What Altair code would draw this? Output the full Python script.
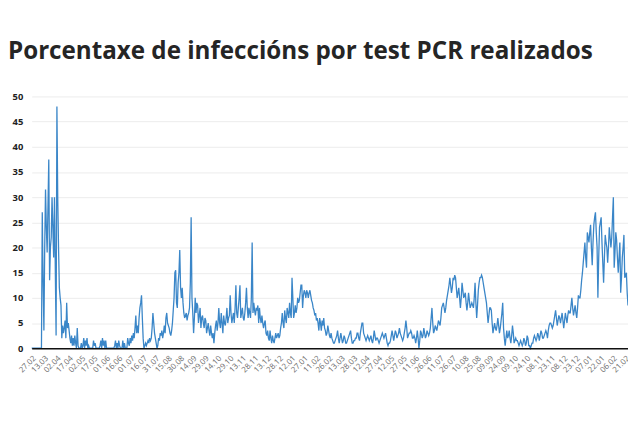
import json
import altair as alt
import pandas as pd

title_text = "Porcentaxe de infeccións por test PCR realizados"

tick_labels = ["27.02", "13.03", "02.04", "17.04", "02.05", "17.05", "01.06", "16.06",
               "01.07", "16.07", "31.07", "15.08", "30.08", "14.09", "29.09", "14.10",
               "29.10", "13.11", "28.11", "13.12", "28.12", "12.01", "27.01", "11.02",
               "26.02", "13.03", "28.03", "12.04", "27.04", "12.05", "27.05", "11.06",
               "26.06", "11.07", "26.07", "10.08", "25.08", "09.09", "24.09", "09.10",
               "24.10", "08.11", "23.11", "08.12", "23.12", "07.01", "22.01", "06.02", "21.02"]

# daily percentage values, grouped by label period
spring_2020 = [
    0, 0, 0, 0, 0, 0, 0, 0, 0, 0, 0, 0, 0, 27, 14,
    3.5, 20, 31.5, 24, 19, 28, 37.5, 13.5, 20, 22, 30, 24, 18, 30, 16,
    2.5, 48, 30, 20, 12, 10, 8.5, 2, 4.5, 3, 4, 5.5, 2, 9, 4,
    5, 3.5, 2, 1, 2.5, 0.5, 2, 0.5, 2.5, 1, 0, 4, 0.5, 0, 0,
]
summer_2020 = [
    0, 1, 0, 0.5, 2, 0, 1.5, 0.5, 2, 0, 0.5, 0, 0, 0, 0,
    0, 1.5, 0.5, 1, 0, 0, 0, 0, 0, 0.5, 1.5, 0, 2, 0.5, 1.5,
    0, 1.5, 0, 0, 0, 0, 0, 0, 0, 0, 0, 0, 0.5, 1.5, 0,
    1, 0, 1.5, 0.5, 0, 0, 0, 1.5, 0, 1, 0, 0, 0, 2, 1,
    0.5, 2, 1, 2.5, 1.5, 3, 2, 4, 6.5, 3, 4.5, 3, 6, 8, 9,
    10.5, 6, 2, 0, 0.5, 1, 0.5, 1, 1.5, 1, 2, 1.5, 2, 4, 7,
    5, 3, 2, 1, 0, 0.5, 2, 1.5, 3, 2.5, 3.5, 2, 3, 4.5, 3,
]
autumn_2020 = [
    6, 7, 5, 4.5, 4, 3, 2.5, 3.5, 5, 7.5, 10, 15, 15.5, 9, 8,
    13, 15, 19.5, 12, 10, 12, 9, 7, 6, 6.5, 7, 5.5, 6.5, 7, 8,
    13, 26, 10, 7, 3, 6, 10, 7, 9, 8.5, 5, 6.5, 8, 4, 6,
    6.5, 5, 4, 6, 5.5, 3, 4, 5, 3.5, 2.5, 4.5, 3, 2, 3, 1,
    3, 4.5, 5.5, 3.5, 5, 8, 5, 4, 7, 5, 3, 6.5, 5, 4.5, 6,
    8, 5, 6, 6.5, 10.5, 7, 5, 6, 7, 5, 8, 12.5, 7, 6, 8,
    10, 12.5, 6, 7, 8, 6, 5.5, 7, 9, 12, 8, 6, 8, 7, 6,
    10, 21, 7, 9, 7.5, 6.5, 8, 7.5, 8.5, 5, 8, 6, 5, 6.5, 5,
]
winter_2021 = [
    4, 5, 5.5, 3, 2.5, 3.5, 2, 1.5, 3.5, 2, 1, 2.5, 1.5, 1, 2,
    3, 2, 2.5, 3, 2, 2.5, 4, 5, 7, 5, 4, 7.5, 6, 5, 8,
    7, 6, 9, 7, 6, 14, 10, 6, 7, 8.5, 7, 8, 10, 9, 9.5,
    11, 12.5, 12.5, 8, 10.5, 11.5, 11, 10, 11.5, 11, 10, 11, 11.5, 10.5, 9.5,
    9, 8, 7.5, 6.5, 7, 5.5, 6, 5, 3.5, 6, 5, 3.5, 5.5, 4.5, 6,
]
spring_2021 = [
    4, 3.5, 2.5, 3, 4.5, 3.5, 2.5, 2, 3, 2, 1.5, 1, 1, 1.5, 2,
    2.5, 3.5, 2, 1, 2, 3, 2, 1, 1.5, 2.5, 2, 1, 1, 1.5, 2,
    2.5, 3, 3.5, 2, 1, 1, 1.5, 1.5, 2, 2, 3, 3, 2, 1.5, 3,
    4, 5, 5, 3, 2.5, 2, 1.5, 2, 2.5, 2, 1.5, 2, 2.5, 1.5, 1,
    2, 3.5, 2.5, 1.5, 2, 2, 1.5, 1, 1.5, 2, 2.5, 3, 2.5, 2, 2.5,
    3, 2, 1, 0.5, 1, 1, 1.5, 2.5, 3.5, 2.5, 1.5, 2.5, 3.5, 3, 2,
    2.5, 3, 4, 3, 2.5, 2, 1.5, 2, 3, 4, 5.5, 4, 2, 2.5, 3,
    3, 3.5, 3, 2, 2, 2.5, 2, 1, 2, 3.5, 2, 0, 1.5, 3.5, 3,
]
summer_2021 = [
    2, 2.5, 4, 3, 2, 2.5, 3.5, 3, 2.5, 3, 4, 6, 8, 5, 3,
    3.5, 4.5, 4, 3.5, 4.5, 5.5, 5, 4.5, 6, 8, 8.5, 9, 8, 7, 8,
    9.5, 10.5, 11.5, 12.5, 14, 12.5, 11, 12, 14, 13.5, 14.5, 14, 12, 10, 11,
    12, 10, 8, 10, 13, 11.5, 10, 10.5, 11, 9, 7.5, 9, 11, 9.5, 8,
    8.5, 9, 8.5, 8, 10, 13, 9, 6, 8.5, 11.5, 13, 14, 14, 14.5, 14,
    13, 12, 11, 10, 9, 7, 5, 6.5, 8, 8, 7.5, 5, 3, 4, 5,
    4, 3.5, 4.5, 6, 4.5, 3, 4, 5.5, 7, 9, 4, 2, 0.5, 2, 3.5,
]
autumn_2021 = [
    2, 2.5, 3.5, 2, 1, 2.5, 4.5, 3, 1, 1.5, 2, 1.5, 1.5, 1, 0.5,
    1, 1.5, 1, 0.5, 1, 2, 1.5, 0.5, 1, 2.5, 2, 0.5, 0.5, 0, 0.5,
    1, 1, 2, 2.5, 2, 1.5, 2, 3, 2.5, 1.5, 2.5, 3.5, 3, 2, 2,
    2.5, 3, 3.5, 3, 2, 3.5, 4.5, 5, 5, 4.5, 4, 4.5, 5.5, 6.5, 7.5,
    6, 4.5, 5.5, 6.5, 6, 5, 6, 7, 5.5, 4, 5.5, 7, 6, 5, 6.5,
    7.5, 7, 7, 8.5, 10, 8, 6.5, 7.5, 8.5, 7, 6, 8, 10.5, 10, 10,
]
winter_2022 = [
    11.5, 13.5, 15, 17, 19, 21, 18, 16, 23, 22, 21, 23, 24.5, 20, 16.5,
    21, 24.5, 26, 27, 23, 20, 10, 18, 24, 25, 26, 21, 17, 13, 18,
    22.5, 21, 20, 17, 20, 24, 22, 20, 22, 26, 30, 16, 19, 23, 21.5,
    18, 15, 18, 21, 11, 14, 18, 20, 22.5, 14, 14.5, 15, 11, 8.5,
]

values = spring_2020 + summer_2020 + autumn_2020 + winter_2021 + spring_2021 + summer_2021 + autumn_2021 + winter_2022
df = pd.DataFrame({"i": list(range(len(values))), "v": values})

last = len(values) - 1
step = 15.2
tick_values = [round(k * step, 2) for k in range(len(tick_labels))]
label_expr = json.dumps(tick_labels) + "[round(datum.value / %s)]" % step

FONT = "Open Sans"

chart = alt.Chart(df).mark_line(color="#3a86c8", strokeWidth=1.3, interpolate="linear").encode(
    x=alt.X("i:Q",
            scale=alt.Scale(domain=[0, last], nice=False, zero=False),
            axis=alt.Axis(values=tick_values, labelExpr=label_expr, labelAngle=-45,
                          labelFontSize=8, labelColor="#6a6a6a", labelFont=FONT,
                          ticks=False, grid=False, domainColor="#111111", domainWidth=1.5,
                          labelPadding=6, labelOverlap=False, labelFlush=False,
                          title=None, zindex=1)),
    y=alt.Y("v:Q",
            scale=alt.Scale(domain=[0, 50], nice=False),
            axis=alt.Axis(values=list(range(0, 51, 5)), domain=False, ticks=False,
                          gridColor="#ececec", gridWidth=1, labelFontSize=9.5,
                          labelFontWeight="bold", labelColor="#222222", labelFont=FONT,
                          labelPadding=9, title=None)),
).properties(
    width=604,
    height=255,
    title=alt.TitleParams(title_text, anchor="start", frame="group", fontSize=24.5,
                          fontWeight="bold", font=FONT, color="#252525", dx=-24, offset=27),
    autosize=alt.AutoSizeParams(type="none"),
    padding={"left": 24, "top": 87, "right": 0, "bottom": 60},
).configure_view(stroke=None)

chart.save("out.html", embed_options={"renderer": "svg", "actions": False})
